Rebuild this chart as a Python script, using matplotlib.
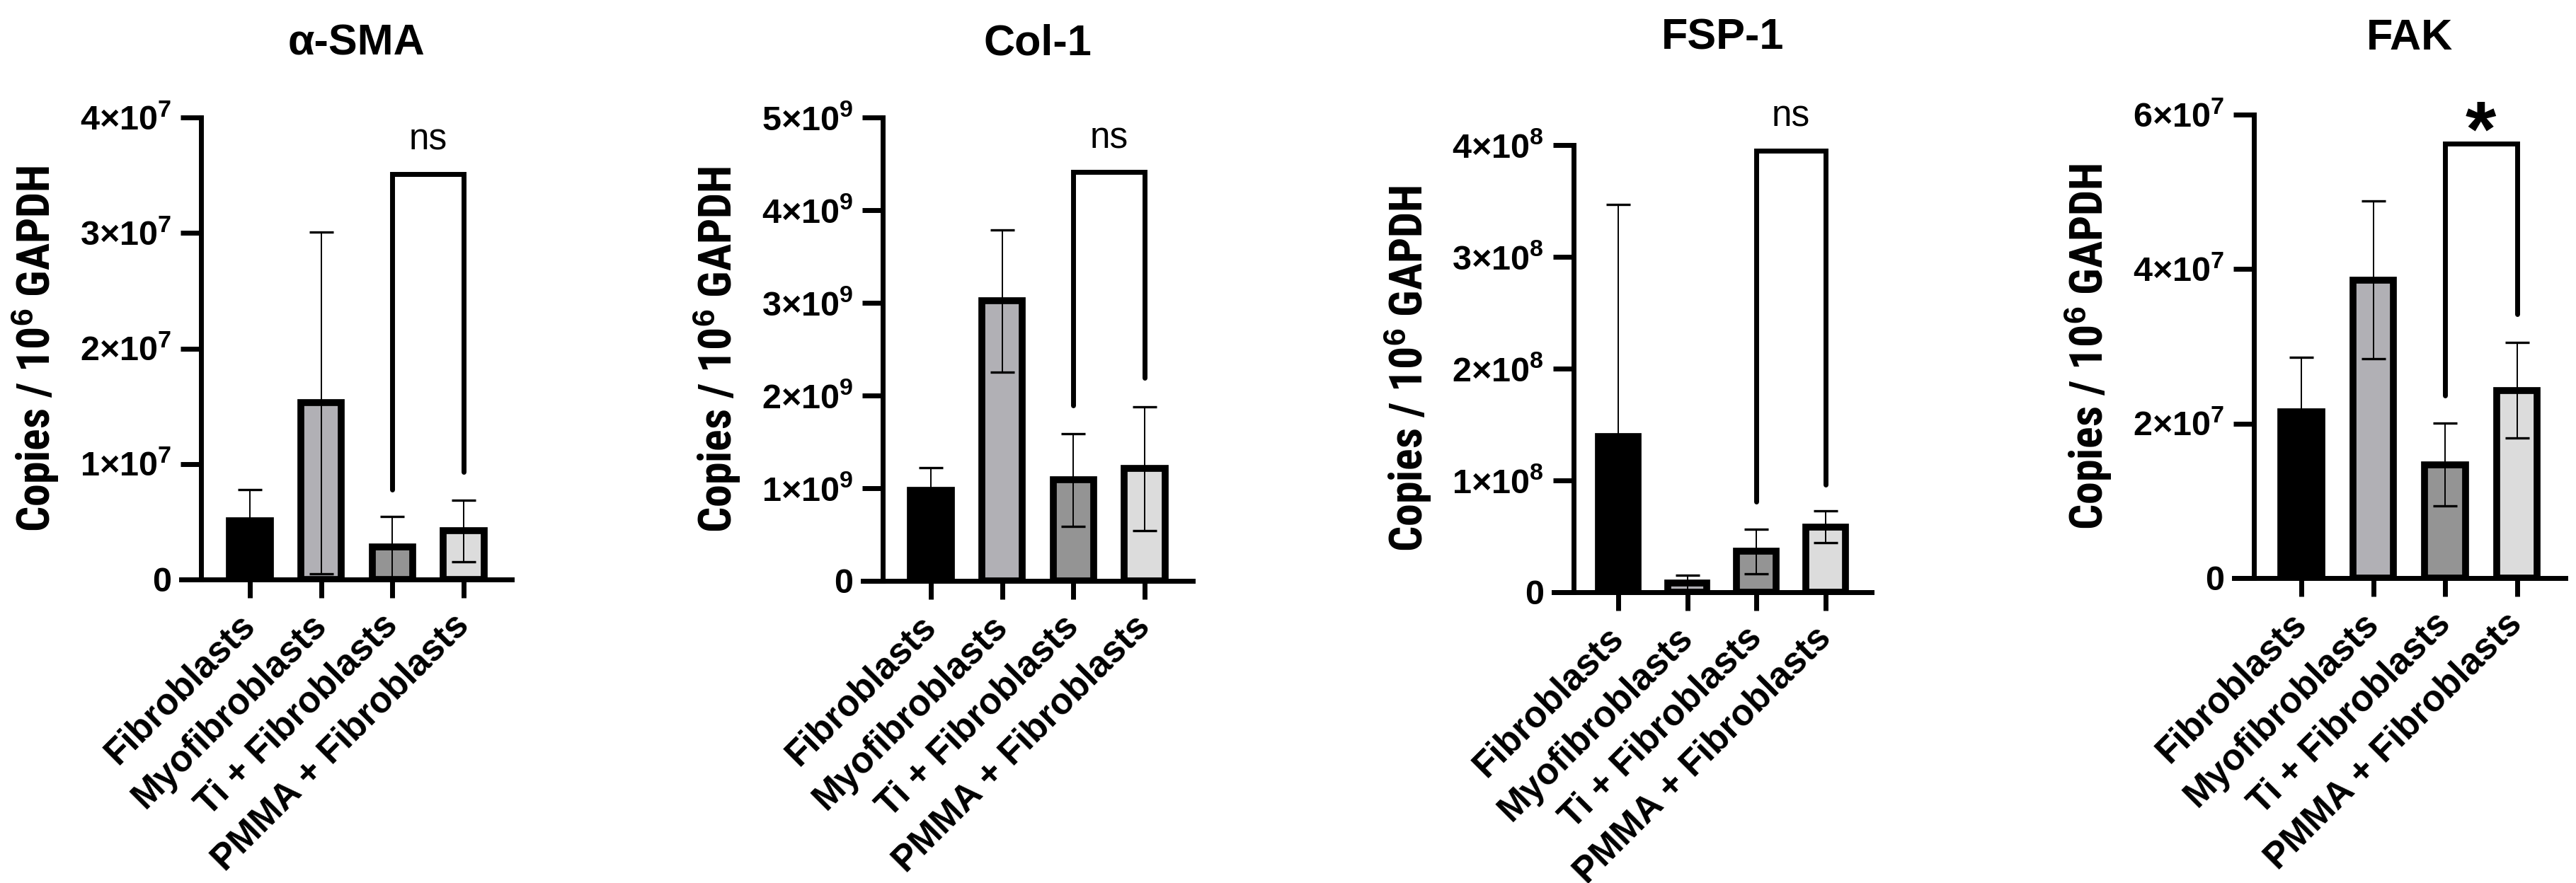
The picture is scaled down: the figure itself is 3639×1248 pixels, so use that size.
import numpy as np
import matplotlib
matplotlib.use("Agg")
import matplotlib.pyplot as plt
from matplotlib.ticker import FuncFormatter, MultipleLocator

plt.rcParams['font.family'] = ['Liberation Sans', 'DejaVu Sans']
plt.rcParams['mathtext.fontset'] = 'custom'
plt.rcParams['mathtext.rm'] = 'Liberation Sans'
plt.rcParams['mathtext.bf'] = 'Liberation Sans:bold'
plt.rcParams['mathtext.it'] = 'Liberation Sans:italic'

# data
groups = ["Fibroblasts", "Myofibroblasts", "Ti + Fibroblasts", "PMMA + Fibroblasts"]
bar_colors = ["#000000", "#b1b0b5", "#949494", "#dcdcdc"]
titles = ["α-SMA", "Col-1", "FSP-1", "FAK"]

sma_mean = [5.1e6, 1.53e7, 2.8e6, 4.2e6]
sma_sd = [2.7e6, 1.48e7, 2.65e6, 2.65e6]
col1_mean = [0.98e9, 3.02e9, 1.09e9, 1.21e9]
col1_sd = [0.24e9, 0.77e9, 0.50e9, 0.67e9]
fsp1_mean = [1.39e8, 0.085e8, 0.365e8, 0.585e8]
fsp1_sd = [2.08e8, 0.07e8, 0.2e8, 0.14e8]
fak_mean = [2.15e7, 3.86e7, 1.47e7, 2.43e7]
fak_sd = [0.71e7, 1.02e7, 0.54e7, 0.62e7]

means = [sma_mean, col1_mean, fsp1_mean, fak_mean]
sds = [sma_sd, col1_sd, fsp1_sd, fak_sd]

y_max = [4e7, 5e9, 4e8, 6e7]
y_step = [1e7, 1e9, 1e8, 2e7]

# Ti vs PMMA comparison bracket
bracket_top = [3.51e7, 4.41e9, 3.95e8, 5.62e7]
bracket_left = [0.78e7, 1.89e9, 0.81e8, 2.36e7]
bracket_right = [0.93e7, 2.19e9, 0.96e8, 3.42e7]
sig_labels = ["ns", "ns", "ns", "*"]

# layout in pixels: first category x, category spacing, y-axis x, zero line y, top line y
W, H = 3639, 1248
panel_px = [(353, 100.7, 284, 819, 166),
            (1315, 100.7, 1247, 821, 166),
            (2286, 97.6, 2223, 837, 205),
            (3251, 101.5, 3184, 817, 162)]
title_y_px = [62, 62, 54, 54]
x_right = 3.67

label_family = ['Liberation Sans Narrow', 'Roboto Condensed', 'Fira Sans Condensed',
                'Liberation Sans']

fig = plt.figure(figsize=(W / 100, H / 100), dpi=100)

for i in range(4):
    c0, sp, yax, y0, yt = panel_px[i]
    yax_data = (yax - c0) / sp
    x_left = (yax - 28 - c0) / sp
    left = c0 + x_left * sp
    width = (x_right - x_left) * sp
    ax = fig.add_axes([left / W, 1 - y0 / H, width / W, (y0 - yt) / H])
    x = np.arange(len(groups))

    ax.bar(x, means[i], width=0.57, color=bar_colors, edgecolor='black',
           linewidth=7, zorder=2)
    ax.errorbar(x, means[i], yerr=sds[i], fmt='none', ecolor='black',
                elinewidth=1.4, capsize=12.5, capthick=2.4, zorder=3)

    # comparison bracket
    ax.plot([2, 2, 3, 3], [bracket_left[i], bracket_top[i], bracket_top[i], bracket_right[i]],
            color='black', lw=5, solid_capstyle='round', solid_joinstyle='miter',
            clip_on=False, zorder=4)
    if sig_labels[i] == "*":
        ax.annotate("*", (2.5, bracket_top[i]), xytext=(0, -12), textcoords='offset points',
                    ha='center', va='baseline', fontsize=80, fontweight='bold',
                    annotation_clip=False)
    else:
        ax.annotate(sig_labels[i], (2.5, bracket_top[i]), xytext=(0, 24.5),
                    textcoords='offset points', ha='center', va='baseline',
                    fontsize=37, annotation_clip=False)

    ax.set_xlim(x_left, x_right)
    ax.set_ylim(0, y_max[i])
    ax.spines['top'].set_visible(False)
    ax.spines['right'].set_visible(False)
    ax.spines['left'].set_position(('data', yax_data))
    ax.spines['left'].set_bounds(0, y_max[i])
    for s in ['left', 'bottom']:
        ax.spines[s].set_linewidth(5)
        ax.spines[s].set_capstyle('projecting')

    ax.yaxis.set_major_locator(MultipleLocator(y_step[i]))
    e = int(np.floor(np.log10(y_max[i])))

    def fmt(v, pos, e=e):
        if abs(v) < 1e-9:
            return "0"
        return "%d×10$^{\\mathbf{%d}}$" % (round(v / 10 ** e), e)

    ax.yaxis.set_major_formatter(FuncFormatter(fmt))
    ax.tick_params(axis='y', direction='out', length=21, width=5, pad=9,
                   labelsize=35)
    for lab in ax.get_yticklabels():
        lab.set_fontweight('bold')

    ax.set_xticks(x)
    ax.set_xticklabels(groups, rotation=45, ha='right', va='center',
                       rotation_mode='anchor', fontsize=37, fontweight='bold')
    ax.tick_params(axis='x', direction='out', length=19, width=5, pad=22)

    # y label and title
    fig.text((yax - 234) / W, 1 - (y0 + yt) / 2 / H, "Copies / 10$^{\\mathbf{6}}$ GAPDH",
             rotation=90, ha='center', va='center', fontsize=46, fontweight='bold',
             family=label_family)
    fig.text((yax + (c0 + x_right * sp)) / 2 / W, 1 - title_y_px[i] / H, titles[i],
             ha='center', va='center', fontsize=44, fontweight='bold')

fig.savefig("out.png", dpi=100)
